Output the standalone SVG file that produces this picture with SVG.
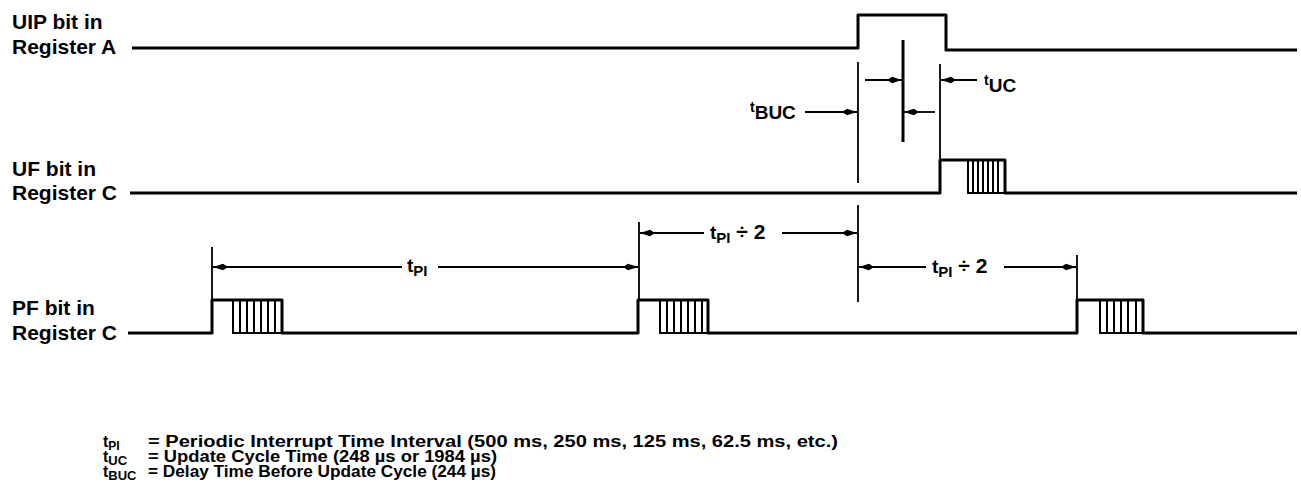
<svg xmlns="http://www.w3.org/2000/svg" width="1301" height="495" viewBox="0 0 1301 495">
<style>
text{font-family:"Liberation Sans",Arial,sans-serif;font-weight:bold;fill:#000}
.lbl{font-size:21px}
.sig{fill:none;stroke:#000;stroke-width:3;stroke-linejoin:round}
.hat{fill:none;stroke:#000;stroke-width:2}
.ext{fill:none;stroke:#000;stroke-width:1.8}
.dim{fill:none;stroke:#000;stroke-width:1.8}
.leg{font-size:16px}
</style>
<defs>
<marker id="ah" markerUnits="userSpaceOnUse" markerWidth="16" markerHeight="10" refX="15" refY="5" orient="auto">
<path d="M0,5 L5,1.8 L15,5 L5,8.2 Z" fill="#000"/>
</marker>
</defs>
<rect width="1301" height="495" fill="#fff"/>

<g id="labels">
<text class="lbl" x="12" y="29">UIP bit in</text>
<text class="lbl" x="12" y="54">Register A</text>
<text class="lbl" x="12" y="176">UF bit in</text>
<text class="lbl" x="12" y="200">Register C</text>
<text class="lbl" x="12" y="315">PF bit in</text>
<text class="lbl" x="12" y="340">Register C</text>
</g>

<g id="signal-uip">
<path class="sig" d="M132,48 H858 V15 H946 V50 H1297"/>
</g>

<g id="signal-uf">
<path class="sig" d="M130,193 H940 V160 H1005 V193 H1297"/>
<path class="hat" d="M968,160 V193 H1005 M973,160 V193 M978,160 V193 M983,160 V193 M988,160 V193 M993,160 V193 M998,160 V193"/>
</g>

<g id="signal-pf">
<path class="sig" d="M128,333 H212 V300 H282 V333 H638 V300 H708 V333 H1077 V300 H1143 V333 H1297"/>
<path class="hat" d="M233,300 V333 H282 M240,300 V333 M247,300 V333 M254,300 V333 M261,300 V333 M268,300 V333 M275,300 V333"/>
<path class="hat" d="M660,300 V333 H708 M667,300 V333 M674,300 V333 M681,300 V333 M688,300 V333 M695,300 V333 M702,300 V333"/>
<path class="hat" d="M1100,300 V333 H1143 M1107,300 V333 M1114,300 V333 M1121,300 V333 M1128,300 V333 M1136,300 V333"/>
</g>

<g id="connectors">
<path class="ext" d="M858,62 V183 M858,205 V302 M940,64 V160 M212,247 V300 M639,222 V300 M1077,255 V300"/>
<path class="sig" d="M903,40 V142"/>
<path class="dim" marker-end="url(#ah)" d="M805,112 H857"/>
<path class="dim" marker-end="url(#ah)" d="M865,80 H902"/>
<path class="dim" marker-end="url(#ah)" d="M935,112 H904"/>
<path class="dim" marker-end="url(#ah)" d="M977,80 H941"/>
<path class="dim" marker-end="url(#ah)" d="M402,267 H213"/>
<path class="dim" marker-end="url(#ah)" d="M438,267 H638"/>
<path class="dim" marker-end="url(#ah)" d="M704,233 H640"/>
<path class="dim" marker-end="url(#ah)" d="M782,233 H857"/>
<path class="dim" marker-end="url(#ah)" d="M926,267 H859"/>
<path class="dim" marker-end="url(#ah)" d="M1004,267 H1076"/>
</g>

<g id="dim-labels">
<text x="750" y="119"><tspan font-size="14" dy="-7">t</tspan><tspan font-size="19" dy="7">BUC</tspan></text>
<text x="984" y="92"><tspan font-size="14" dy="-7">t</tspan><tspan font-size="19" dy="7">UC</tspan></text>
<text x="407" y="272"><tspan font-size="19">t</tspan><tspan font-size="15" dy="4">PI</tspan></text>
<text x="710" y="239"><tspan font-size="19">t</tspan><tspan font-size="15" dy="4">PI</tspan><tspan font-size="21" dy="-4"> ÷ 2</tspan></text>
<text x="932" y="273"><tspan font-size="19">t</tspan><tspan font-size="15" dy="4">PI</tspan><tspan font-size="21" dy="-4"> ÷ 2</tspan></text>
</g>

<g id="legend">
<text class="leg" x="103" y="447"><tspan>t</tspan><tspan font-size="12" dy="3">PI</tspan></text>
<text class="leg" x="103" y="462"><tspan>t</tspan><tspan font-size="13" dy="3">UC</tspan></text>
<text class="leg" x="103" y="477"><tspan>t</tspan><tspan font-size="13" dy="3">BUC</tspan></text>
<text class="leg" x="148" y="447" textLength="690" lengthAdjust="spacingAndGlyphs">= Periodic Interrupt Time Interval (500 ms, 250 ms, 125 ms, 62.5 ms, etc.)</text>
<text class="leg" x="148" y="462" textLength="349" lengthAdjust="spacingAndGlyphs">= Update Cycle Time (248 µs or 1984 µs)</text>
<text class="leg" x="148" y="477" textLength="348" lengthAdjust="spacingAndGlyphs">= Delay Time Before Update Cycle (244 µs)</text>
</g>
</svg>
